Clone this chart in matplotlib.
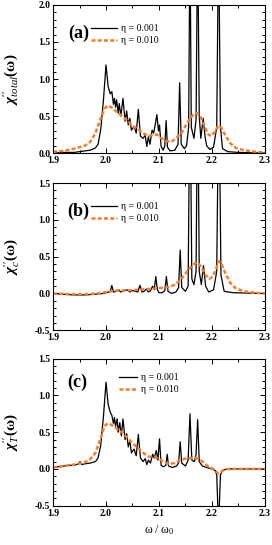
import matplotlib
matplotlib.use('Agg')
import matplotlib.pyplot as plt
from matplotlib.ticker import MultipleLocator

SERIF = 'Liberation Serif'
plt.rcParams['font.family'] = 'serif'
plt.rcParams['font.serif'] = [SERIF, 'DejaVu Serif']
plt.rcParams['mathtext.fontset'] = 'custom'
plt.rcParams['mathtext.rm'] = SERIF
plt.rcParams['mathtext.it'] = SERIF + ':italic'
plt.rcParams['mathtext.bf'] = SERIF + ':bold'
plt.rcParams['mathtext.bfit'] = SERIF + ':bold:italic'

# ---- data ----
# panel (a): chi''_total
a_eta1_x = [1.900, 1.920, 1.940, 1.950, 1.960, 1.970, 1.980, 1.985, 1.990, 1.995,
            2.000, 2.004, 2.008, 2.011, 2.014, 2.016, 2.018, 2.020, 2.023, 2.025,
            2.028, 2.032, 2.036, 2.039, 2.042, 2.045, 2.048, 2.053, 2.057, 2.061,
            2.065, 2.070, 2.074, 2.077, 2.080, 2.083, 2.087, 2.090, 2.094, 2.096,
            2.099, 2.101, 2.104, 2.108, 2.111, 2.1135, 2.116, 2.121, 2.130, 2.136,
            2.139, 2.142, 2.148, 2.152, 2.156, 2.1585, 2.161, 2.166, 2.170, 2.173,
            2.176, 2.179, 2.1835, 2.187, 2.190, 2.196, 2.203, 2.209, 2.2125, 2.216,
            2.220, 2.230, 2.250, 2.300]
a_eta1_y = [0.00, 0.01, 0.01, 0.02, 0.03, 0.04, 0.07, 0.12, 0.32, 0.70,
            1.19, 0.90, 0.80, 0.83, 0.66, 0.74, 0.62, 0.72, 0.54, 0.67,
            0.50, 0.74, 0.43, 0.57, 0.38, 0.47, 0.31, 0.36, 0.27, 0.59,
            0.23, 0.20, 0.24, 0.09, 0.22, 0.12, 0.31, 0.27, 0.43, 0.52,
            0.30, 0.38, 0.09, 0.04, 0.10, 0.44, 0.08, 0.03, 0.04, 0.12,
            0.95, 0.12, 0.06, 0.10, 0.35, 3.00, 0.35, 0.20, 0.45, 3.00,
            0.50, 0.20, 0.47, 0.22, 0.10, 0.05, 0.08, 0.35, 3.00, 0.35,
            0.06, 0.02, 0.01, 0.00]
a_eta10_x = [1.900, 1.920, 1.940, 1.960, 1.970, 1.980, 1.990, 1.997, 2.003, 2.010,
             2.020, 2.030, 2.042, 2.050, 2.061, 2.070, 2.080, 2.090, 2.096, 2.105,
             2.115, 2.125, 2.135, 2.145, 2.155, 2.165, 2.172, 2.178, 2.185, 2.192,
             2.198, 2.205, 2.212, 2.218, 2.225, 2.235, 2.245, 2.260, 2.280, 2.300]
a_eta10_y = [0.02, 0.03, 0.06, 0.10, 0.15, 0.27, 0.47, 0.60, 0.64, 0.62,
             0.56, 0.50, 0.43, 0.37, 0.32, 0.27, 0.23, 0.25, 0.25, 0.20,
             0.16, 0.16, 0.22, 0.30, 0.43, 0.52, 0.54, 0.50, 0.38, 0.26,
             0.23, 0.28, 0.37, 0.34, 0.24, 0.13, 0.07, 0.04, 0.02, 0.01]

# panel (b): chi''_c
b_eta1_x = [1.900, 1.920, 1.940, 1.960, 1.980, 1.995, 2.005, 2.008, 2.011, 2.014,
            2.020, 2.024, 2.028, 2.035, 2.040, 2.045, 2.050, 2.055, 2.060, 2.064,
            2.068, 2.072, 2.076, 2.080, 2.084, 2.088, 2.091, 2.094, 2.097, 2.100,
            2.106, 2.111, 2.114, 2.117, 2.124, 2.132, 2.137, 2.140, 2.143, 2.150,
            2.155, 2.1585, 2.162, 2.166, 2.170, 2.173, 2.176, 2.180, 2.184, 2.188,
            2.194, 2.203, 2.209, 2.213, 2.217, 2.223, 2.240, 2.300]
b_eta1_y = [0.00, -0.01, -0.02, -0.02, -0.01, 0.00, 0.02, 0.03, 0.11, 0.02,
            0.03, 0.05, 0.02, 0.04, 0.05, 0.02, 0.04, 0.03, 0.02, 0.11,
            0.02, 0.03, 0.06, 0.02, 0.04, 0.10, 0.05, 0.23, 0.05, 0.01,
            0.01, 0.04, 0.23, 0.03, 0.00, 0.02, 0.08, 0.59, 0.08, 0.03,
            0.10, 3.00, 0.20, 0.12, 0.30, 3.00, 0.30, 0.12, 0.38, 0.10,
            0.02, 0.05, 0.30, 3.00, 0.25, 0.03, 0.01, 0.00]
b_eta10_x = [1.900, 1.930, 1.960, 1.985, 2.000, 2.010, 2.020, 2.040, 2.060, 2.080,
             2.095, 2.110, 2.120, 2.130, 2.140, 2.150, 2.160, 2.168, 2.173, 2.180,
             2.187, 2.195, 2.202, 2.208, 2.213, 2.218, 2.225, 2.235, 2.245, 2.260,
             2.280, 2.300]
b_eta10_y = [0.00, -0.01, -0.01, 0.00, 0.02, 0.03, 0.04, 0.04, 0.05, 0.06,
             0.07, 0.08, 0.09, 0.12, 0.18, 0.27, 0.36, 0.41, 0.42, 0.36,
             0.26, 0.20, 0.23, 0.34, 0.44, 0.40, 0.28, 0.14, 0.07, 0.03,
             0.01, 0.00]

# panel (c): chi''_T
c_eta1_x = [1.900, 1.910, 1.920, 1.930, 1.940, 1.948, 1.951, 1.954, 1.960, 1.970,
            1.980, 1.985, 1.990, 1.995, 2.000, 2.004, 2.008, 2.011, 2.014, 2.016,
            2.018, 2.021, 2.023, 2.026, 2.029, 2.032, 2.036, 2.039, 2.042, 2.045,
            2.048, 2.053, 2.057, 2.061, 2.065, 2.070, 2.074, 2.077, 2.080, 2.084,
            2.088, 2.091, 2.095, 2.098, 2.101, 2.104, 2.108, 2.113, 2.1155, 2.118,
            2.125, 2.133, 2.137, 2.140, 2.143, 2.150, 2.155, 2.1585, 2.162, 2.167,
            2.170, 2.173, 2.176, 2.182, 2.190, 2.200, 2.206, 2.209, 2.2125, 2.216,
            2.220, 2.228, 2.300]
c_eta1_y = [0.02, 0.03, 0.04, 0.05, 0.05, 0.07, 0.10, 0.06, 0.07, 0.08,
            0.10, 0.15, 0.32, 0.70, 1.18, 0.88, 0.77, 0.73, 0.62, 0.70,
            0.58, 0.68, 0.50, 0.63, 0.45, 0.68, 0.40, 0.48, 0.30, 0.38,
            0.22, 0.27, 0.18, 0.47, 0.15, 0.10, 0.14, 0.06, 0.12, 0.08,
            0.20, 0.15, 0.25, 0.12, 0.41, 0.05, 0.03, 0.05, 0.20, 0.04,
            0.02, 0.04, 0.08, 0.37, 0.08, 0.04, 0.12, 0.75, 0.12, 0.10,
            0.20, 0.67, 0.10, 0.04, 0.02, 0.00, -0.02, -0.08, -0.80, -0.08,
            -0.02, 0.00, 0.00]
c_eta10_x = [1.900, 1.920, 1.940, 1.960, 1.970, 1.980, 1.990, 1.997, 2.003, 2.010,
             2.020, 2.030, 2.042, 2.050, 2.061, 2.070, 2.080, 2.090, 2.100, 2.110,
             2.120, 2.130, 2.140, 2.150, 2.160, 2.170, 2.178, 2.185, 2.192, 2.200,
             2.207, 2.212, 2.217, 2.223, 2.232, 2.300]
c_eta10_y = [0.02, 0.04, 0.06, 0.09, 0.13, 0.22, 0.42, 0.58, 0.62, 0.60,
             0.55, 0.50, 0.41, 0.35, 0.28, 0.22, 0.17, 0.16, 0.14, 0.09,
             0.07, 0.08, 0.12, 0.14, 0.15, 0.15, 0.13, 0.08, 0.04, 0.01,
             -0.03, -0.06, -0.04, -0.01, 0.00, 0.00]

panel_tags = ['(a)', '(b)', '(c)']
ylabels = [r'$\mathbfit{\chi}^{\prime\prime}_{\mathit{total}}\mathbf{(\omega)}$',
           r'$\mathbfit{\chi}^{\prime\prime}_{\mathit{c}}\mathbf{(\omega)}$',
           r'$\mathbfit{\chi}^{\prime\prime}_{\mathit{T}}\mathbf{(\omega)}$']
ylims = [(0.0, 2.0), (-0.5, 1.5), (-0.5, 1.5)]
legend_labels = ['\u03b7 = 0.001', '\u03b7 = 0.010']

curves = [
    (a_eta1_x, a_eta1_y, a_eta10_x, a_eta10_y),
    (b_eta1_x, b_eta1_y, b_eta10_x, b_eta10_y),
    (c_eta1_x, c_eta1_y, c_eta10_x, c_eta10_y),
]

fig = plt.figure(figsize=(2.72, 5.45), dpi=100)
ax_rects = [
    [0.195, 0.719, 0.779, 0.272],
    [0.195, 0.394, 0.779, 0.270],
    [0.195, 0.072, 0.779, 0.270],
]
orange = '#F47C2C'
fmt = plt.FuncFormatter(lambda v, p: f'{v:.1f}')

for k in range(3):
    ax = fig.add_axes(ax_rects[k])
    x1, y1, x2, y2 = curves[k]
    ax.plot(x1, y1, color='black', lw=0.9, label=legend_labels[0])
    ax.plot(x2, y2, color=orange, lw=1.8, ls=(0, (1.6, 0.9)), label=legend_labels[1])

    ax.set_xlim(1.9, 2.3)
    ax.set_ylim(*ylims[k])
    ax.xaxis.set_major_locator(MultipleLocator(0.1))
    ax.xaxis.set_minor_locator(MultipleLocator(0.05))
    ax.yaxis.set_major_locator(MultipleLocator(0.5))
    ax.yaxis.set_minor_locator(MultipleLocator(0.1))
    ax.xaxis.set_major_formatter(fmt)
    ax.yaxis.set_major_formatter(fmt)
    ax.tick_params(which='both', direction='in', top=True, right=True, width=0.7)
    ax.tick_params(which='major', length=3.5, labelsize=7, pad=2)
    ax.tick_params(which='minor', length=2)
    for lab in ax.get_xticklabels() + ax.get_yticklabels():
        lab.set_fontfamily(SERIF)
        lab.set_fontweight('bold')
    for sp in ax.spines.values():
        sp.set_linewidth(0.8)

    ax.set_ylabel(ylabels[k], fontsize=11)
    ax.yaxis.set_label_coords(-0.15, 0.5)

    if k < 2:
        ax.text(0.12, 0.81, panel_tags[k], transform=ax.transAxes, fontsize=13,
                family=SERIF, fontweight='bold', ha='center', va='center')
        ax.legend(loc='upper left', bbox_to_anchor=(0.18, 0.87), frameon=False,
                  prop={'family': SERIF, 'size': 7}, handlelength=2.7,
                  handletextpad=0.4, borderpad=0, borderaxespad=0, labelspacing=0.3)
    else:
        ax.text(0.115, 0.84, panel_tags[k], transform=ax.transAxes, fontsize=13,
                family=SERIF, fontweight='bold', ha='center', va='center')
        ax.legend(loc='upper left', bbox_to_anchor=(0.31, 0.90), frameon=False,
                  prop={'family': SERIF, 'size': 7}, handlelength=1.9,
                  handletextpad=0.4, borderpad=0, borderaxespad=0, labelspacing=0.3)
        ax.set_xlabel('\u03c9 / \u03c9$_0$', fontsize=8.5, family=SERIF, labelpad=4)

fig.savefig('out.png', dpi=100)
